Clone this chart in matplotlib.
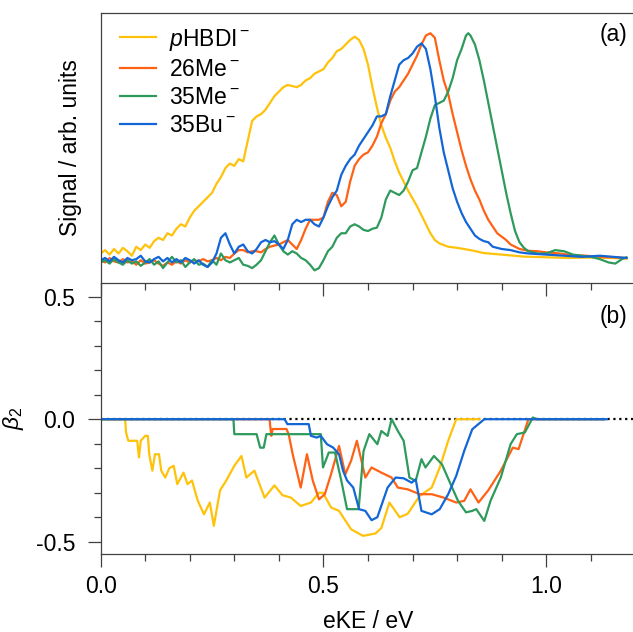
"""
   photoelectron spectra (a) and beta_2 anisotropy (b) for pHBDI and derivatives
"""
from matplotlib import pyplot as plt
plt.switch_backend('Agg') #batch
import numpy as np
from matplotlib.ticker import MultipleLocator

plt.rcParams['font.family'] = ['Liberation Sans', 'DejaVu Sans']
plt.rcParams['mathtext.fontset'] = 'custom'
plt.rcParams['mathtext.rm'] = 'Liberation Sans'
plt.rcParams['mathtext.it'] = 'Liberation Sans:italic'
plt.rcParams['axes.unicode_minus'] = False

#
# series names and colours
#
names = [r'$\it{p}$HBDI$^-$', r'26Me$^-$', r'35Me$^-$', r'35Bu$^-$']
colors = ['#FFC20A', '#FF6214', '#2E9A5C', '#1366D6']

#
# (a) photoelectron spectra (arb. units)
#
hbdi_ke = [0.00,0.01,0.02,0.03,0.04,0.05,0.06,0.07,0.08,0.09,0.10,0.11,0.12,0.13,0.14,0.15,
           0.16,0.17,0.18,0.19,0.20,0.21,0.22,0.23,0.24,0.25,0.26,0.27,0.28,0.29,0.30,0.31,
           0.32,0.33,0.34,0.35,0.36,0.37,0.38,0.39,0.40,0.41,0.42,0.43,0.44,0.45,0.46,0.47,
           0.48,0.49,0.50,0.51,0.52,0.53,0.54,0.55,0.56,0.57,0.58,0.59,0.60,0.61,0.62,0.63,
           0.64,0.65,0.66,0.67,0.68,0.69,0.70,0.71,0.72,0.73,0.74,0.75,0.76,0.78,0.80,0.83,
           0.86,0.90,0.95,1.00,1.05,1.10,1.15,1.18]
hbdi_sig = [0.02,0.035,0.015,0.04,0.02,0.045,0.03,0.01,0.05,0.035,0.06,0.045,0.075,0.09,0.08,0.11,
            0.10,0.13,0.15,0.14,0.18,0.21,0.23,0.25,0.27,0.29,0.33,0.36,0.40,0.42,0.41,0.44,
            0.43,0.52,0.61,0.63,0.64,0.66,0.69,0.72,0.74,0.76,0.77,0.765,0.76,0.77,0.79,0.80,
            0.82,0.83,0.84,0.87,0.89,0.92,0.93,0.95,0.97,0.985,0.97,0.93,0.86,0.76,0.67,0.59,
            0.535,0.49,0.43,0.38,0.34,0.30,0.265,0.23,0.19,0.15,0.11,0.08,0.065,0.05,0.045,0.035,
            0.022,0.015,0.006,0.003,0.0,0.002,0.0,-0.003]

me26_ke = [0.00,0.01,0.02,0.03,0.04,0.05,0.06,0.07,0.08,0.09,0.10,0.11,0.12,0.13,0.14,0.15,
           0.16,0.17,0.18,0.19,0.20,0.21,0.22,0.23,0.24,0.25,0.26,0.27,0.28,0.29,0.30,0.31,
           0.32,0.33,0.34,0.35,0.36,0.37,0.38,0.39,0.40,0.41,0.42,0.43,0.44,0.45,0.46,0.47,
           0.48,0.49,0.50,0.51,0.52,0.53,0.54,0.55,0.56,0.57,0.58,0.59,0.60,0.61,0.62,0.63,
           0.64,0.65,0.66,0.67,0.68,0.69,0.70,0.71,0.72,0.73,0.74,0.75,0.76,0.77,0.78,0.79,
           0.80,0.81,0.82,0.83,0.84,0.85,0.86,0.87,0.88,0.89,0.90,0.91,0.92,0.93,0.94,0.96,
           0.98,1.00,1.03,1.06,1.09,1.12,1.15,1.18]
me26_sig = [-0.01,-0.02,0.0,-0.015,-0.02,-0.005,-0.02,-0.015,-0.03,-0.01,-0.025,-0.02,-0.01,-0.025,-0.035,-0.02,
            -0.03,-0.015,-0.025,-0.01,-0.02,-0.01,-0.015,-0.005,-0.015,-0.01,0.0,-0.01,0.005,0.0,0.02,0.035,
            0.035,0.025,0.03,0.03,0.025,0.04,0.05,0.055,0.06,0.07,0.08,0.06,0.04,0.08,0.13,0.17,
            0.17,0.17,0.18,0.25,0.29,0.28,0.23,0.25,0.34,0.41,0.44,0.46,0.47,0.50,0.54,0.60,
            0.64,0.70,0.74,0.76,0.79,0.82,0.86,0.90,0.95,0.99,1.0,0.98,0.88,0.79,0.73,0.64,
            0.56,0.48,0.41,0.35,0.30,0.26,0.21,0.17,0.14,0.11,0.095,0.08,0.06,0.05,0.04,0.032,
            0.03,0.025,0.02,0.012,0.01,0.005,0.003,0.0]

me35_ke = [0.00,0.01,0.02,0.03,0.04,0.05,0.06,0.07,0.08,0.09,0.10,0.11,0.12,0.13,0.14,0.15,
           0.16,0.17,0.18,0.19,0.20,0.21,0.22,0.23,0.24,0.25,0.26,0.27,0.28,0.29,0.30,0.31,
           0.32,0.33,0.34,0.35,0.36,0.37,0.38,0.39,0.40,0.41,0.42,0.43,0.44,0.45,0.46,0.47,
           0.48,0.49,0.50,0.51,0.52,0.53,0.54,0.55,0.56,0.57,0.58,0.59,0.60,0.61,0.62,0.63,
           0.64,0.65,0.66,0.67,0.68,0.69,0.70,0.71,0.72,0.73,0.74,0.75,0.76,0.77,0.78,0.79,
           0.80,0.81,0.82,0.825,0.83,0.84,0.85,0.86,0.87,0.88,0.89,0.90,0.91,0.92,0.93,0.94,
           0.95,0.96,0.97,0.98,1.00,1.02,1.04,1.06,1.08,1.10,1.12,1.14,1.155,1.17,1.18]
me35_sig = [-0.02,-0.01,-0.025,-0.005,-0.02,-0.03,-0.01,-0.025,-0.015,-0.035,-0.02,-0.005,-0.03,-0.015,-0.045,-0.02,
            0.005,-0.02,-0.01,-0.04,-0.02,-0.005,-0.03,-0.025,-0.04,-0.01,-0.03,0.02,-0.01,-0.02,-0.01,0.0,
            -0.03,-0.035,-0.045,-0.03,-0.01,0.03,0.07,0.10,0.06,0.03,0.015,0.03,0.02,0.0,-0.01,-0.03,
            -0.055,-0.045,-0.01,0.03,0.05,0.09,0.11,0.11,0.14,0.15,0.14,0.125,0.12,0.13,0.135,0.18,
            0.26,0.30,0.29,0.28,0.30,0.34,0.39,0.40,0.47,0.54,0.62,0.68,0.69,0.70,0.74,0.80,
            0.88,0.93,0.99,1.0,0.99,0.95,0.88,0.79,0.69,0.59,0.49,0.39,0.29,0.20,0.12,0.07,
            0.045,0.03,0.025,0.02,0.02,0.035,0.03,0.015,0.01,0.005,-0.005,-0.02,-0.025,-0.005,0.003]

bu35_ke = [0.00,0.01,0.02,0.03,0.04,0.05,0.06,0.07,0.08,0.09,0.10,0.11,0.12,0.13,0.14,0.15,
           0.16,0.17,0.18,0.19,0.20,0.21,0.22,0.23,0.24,0.25,0.26,0.27,0.28,0.29,0.30,0.31,
           0.32,0.33,0.34,0.35,0.36,0.37,0.38,0.39,0.40,0.41,0.42,0.43,0.44,0.45,0.46,0.47,
           0.48,0.49,0.50,0.51,0.52,0.53,0.54,0.55,0.56,0.57,0.58,0.59,0.60,0.61,0.62,0.63,
           0.64,0.65,0.66,0.67,0.68,0.69,0.70,0.71,0.72,0.73,0.74,0.75,0.76,0.77,0.78,0.79,
           0.80,0.81,0.82,0.83,0.84,0.85,0.86,0.87,0.88,0.90,0.92,0.94,0.96,1.00,1.04,1.08,
           1.12,1.15,1.18]
bu35_sig = [-0.01,0.0,-0.015,0.005,-0.01,-0.02,0.0,-0.01,-0.005,0.01,-0.015,-0.02,-0.005,0.005,-0.015,0.0,
            -0.02,-0.005,-0.02,0.0,-0.01,-0.025,-0.01,-0.03,-0.04,-0.02,0.02,0.09,0.11,0.06,0.02,0.05,
            0.06,0.03,0.02,0.04,0.07,0.08,0.07,0.075,0.06,0.04,0.08,0.15,0.17,0.16,0.17,0.17,
            0.15,0.14,0.18,0.23,0.27,0.30,0.37,0.41,0.44,0.46,0.50,0.53,0.56,0.59,0.63,0.63,
            0.64,0.72,0.79,0.86,0.88,0.89,0.91,0.94,0.955,0.93,0.84,0.72,0.58,0.47,0.39,0.31,
            0.25,0.20,0.16,0.13,0.10,0.085,0.075,0.07,0.05,0.04,0.035,0.025,0.02,0.015,0.01,0.005,
            0.01,0.005,0.0]

#
# (b) beta_2 parameters
#
hbdi_bke = [0,0.055,0.057,0.062,0.082,0.086,0.09,0.10,0.106,0.109,0.116,0.122,0.131,0.136,0.145,0.154,
            0.164,0.172,0.186,0.195,0.205,0.218,0.232,0.245,0.254,0.268,0.282,0.30,0.316,0.327,0.345,0.368,
            0.39,0.408,0.427,0.449,0.472,0.49,0.499,0.517,0.535,0.562,0.589,0.617,0.63,0.648,0.671,0.689,
            0.716,0.743,0.761,0.78,0.798,0.85]
hbdi_beta = [0,0,-0.054,-0.088,-0.088,-0.156,-0.088,-0.068,-0.068,-0.143,-0.21,-0.143,-0.143,-0.21,-0.238,-0.2,
             -0.19,-0.265,-0.218,-0.265,-0.25,-0.333,-0.388,-0.34,-0.435,-0.29,-0.25,-0.19,-0.15,-0.238,-0.21,-0.32,
             -0.27,-0.31,-0.32,-0.354,-0.34,-0.30,-0.30,-0.36,-0.374,-0.449,-0.476,-0.466,-0.444,-0.34,-0.40,-0.386,
             -0.313,-0.279,-0.197,-0.088,0,0]

me26_bke = [0,0.379,0.383,0.386,0.417,0.422,0.431,0.449,0.463,0.476,0.49,0.503,0.517,0.535,0.549,0.562,
            0.575,0.594,0.608,0.63,0.653,0.667,0.689,0.716,0.743,0.77,0.798,0.816,0.83,0.848,0.87,0.898,
            0.925,0.938,0.96,1.13]
me26_beta = [0,0,-0.068,-0.04,-0.04,-0.061,-0.143,-0.279,-0.143,-0.25,-0.327,-0.306,-0.225,-0.109,-0.225,-0.170,
             -0.088,-0.238,-0.197,-0.218,-0.238,-0.279,-0.286,-0.306,-0.306,-0.32,-0.34,-0.333,-0.286,-0.34,-0.29,-0.21,
             -0.116,-0.122,0,0]

me35_bke = [0,0.298,0.30,0.35,0.358,0.366,0.372,0.494,0.499,0.512,0.526,0.54,0.553,0.579,0.59,0.603,
            0.621,0.63,0.644,0.653,0.667,0.68,0.693,0.707,0.72,0.729,0.748,0.766,0.784,0.802,0.82,0.834,
            0.843,0.861,0.875,0.898,0.92,0.934,0.952,0.97,0.98,1.13]
me35_beta = [0,0,-0.061,-0.061,-0.116,-0.116,-0.061,-0.061,-0.197,-0.136,-0.136,-0.25,-0.367,-0.367,-0.13,-0.061,
             -0.102,-0.048,-0.068,0.0,-0.048,-0.088,-0.238,-0.252,-0.163,-0.197,-0.15,-0.184,-0.259,-0.333,-0.38,-0.374,
             -0.367,-0.415,-0.333,-0.238,-0.102,-0.061,-0.054,0.007,0,0]

bu35_bke = [0,0.413,0.419,0.467,0.472,0.485,0.494,0.508,0.522,0.535,0.544,0.553,0.567,0.58,0.594,0.608,
            0.621,0.644,0.662,0.68,0.698,0.707,0.72,0.743,0.761,0.78,0.798,0.816,0.834,0.861,1.136]
bu35_beta = [0,0,-0.02,-0.02,-0.068,-0.075,-0.068,-0.102,-0.116,-0.143,-0.21,-0.25,-0.279,-0.367,-0.374,-0.412,
             -0.40,-0.279,-0.238,-0.241,-0.259,-0.245,-0.374,-0.388,-0.367,-0.306,-0.231,-0.129,-0.041,0,0]

spectra = [(hbdi_ke, hbdi_sig), (me26_ke, me26_sig), (me35_ke, me35_sig), (bu35_ke, bu35_sig)]
betas = [(hbdi_bke, hbdi_beta), (me26_bke, me26_beta), (me35_bke, me35_beta), (bu35_bke, bu35_beta)]

spine_col = '#404040'
fs = 16.5

def style_axis(ax, labels_on):
    ax.set_xlim(0, 1.2)
    ax.xaxis.set_major_locator(MultipleLocator(0.5))
    ax.xaxis.set_minor_locator(MultipleLocator(0.1))
    ax.tick_params(axis='both', which='major', direction='out', length=9.4, width=0.9,
                   color=spine_col, labelsize=fs, pad=6)
    ax.tick_params(axis='both', which='minor', direction='out', length=4.8, width=0.9,
                   color=spine_col)
    ax.tick_params(axis='x', labelbottom=labels_on, top=False, which='both')
    ax.spines['right'].set_visible(False)
    for sp in ax.spines.values():
        sp.set_color(spine_col)
        sp.set_linewidth(0.9)

fig = plt.figure(figsize=(6.33, 6.32), dpi=100)
ax2 = fig.add_axes([0.159, 0.1234, 0.8447, 0.4293])
ax1 = fig.add_axes([0.159, 0.5527, 0.8447, 0.4267])
ax1.set_zorder(3)

#
# top panel: spectra
#
for (ke, sig), name, col in zip(spectra, names, colors):
    ax1.plot(ke, sig, color=col, lw=1.6, label=name)
style_axis(ax1, False)
ax1.set_ylim(-0.11, 1.09)
ax1.set_yticks([])
ax1.set_ylabel('Signal / arb. units', fontsize=fs)
ax1.yaxis.set_label_coords(-0.035, 0.5)
ax1.text(0.986, 0.922, '(a)', transform=ax1.transAxes, ha='right', va='center', fontsize=fs)
leg = ax1.legend(loc='upper left', bbox_to_anchor=(0.036, 0.95), frameon=False, fontsize=fs,
                 handlelength=1.57, handletextpad=0.57, labelspacing=0.22,
                 borderaxespad=0.0, borderpad=0.0)

#
# bottom panel: beta_2
#
ax2.axhline(0, color='k', ls=':', lw=1.6, zorder=1)
for (ke, b), col in zip(betas, colors):
    ax2.plot(ke, b, color=col, lw=1.6, zorder=2)
style_axis(ax2, True)
ax2.spines['top'].set_visible(False)
ax2.set_ylim(-0.55, 0.557)
ax2.yaxis.set_major_locator(MultipleLocator(0.5))
ax2.yaxis.set_minor_locator(MultipleLocator(0.1))
ax2.tick_params(axis='y', pad=9)
ax2.set_yticks([-0.5, 0.0, 0.5])
ax2.set_yticklabels(['-0.5', '0.0', '0.5'])
ax2.set_ylabel(r'$\it{\beta}_2$', fontsize=fs)
ax2.yaxis.set_label_coords(-0.14, 0.5)
ax2.set_xlabel('eKE / eV', fontsize=fs, labelpad=8)
ax2.text(0.986, 0.874, '(b)', transform=ax2.transAxes, ha='right', va='center', fontsize=fs)

fig.savefig('out.png', dpi=100)
